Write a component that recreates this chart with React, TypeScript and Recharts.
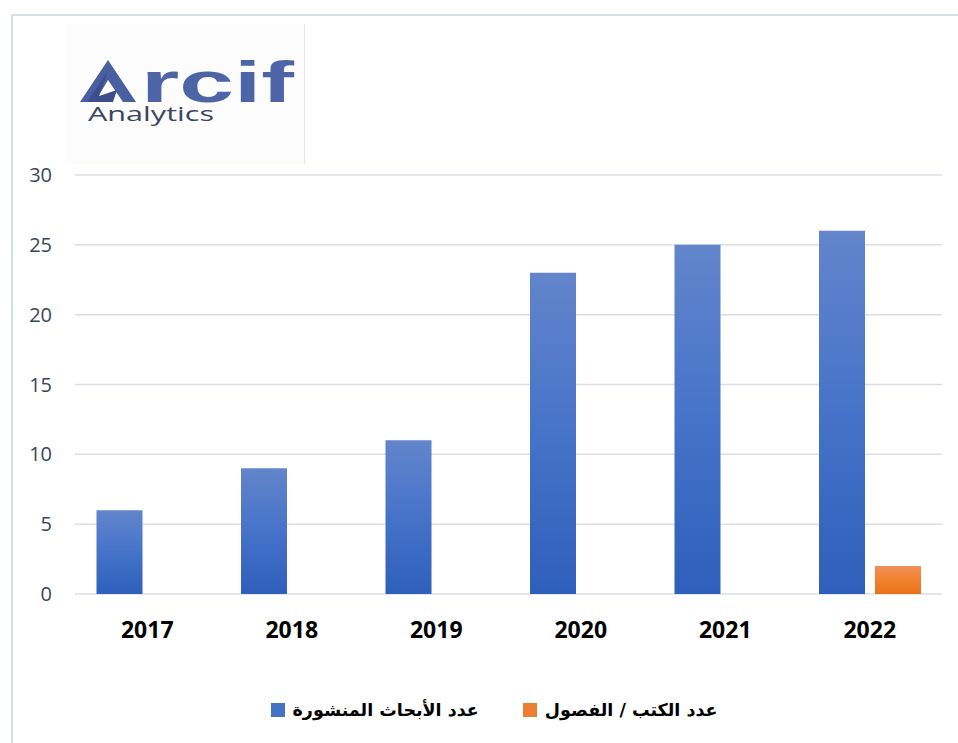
import React from 'react';
import {BarChart, Bar, XAxis, YAxis, CartesianGrid, Legend} from 'recharts';

const years = ['2017', '2018', '2019', '2020', '2021', '2022'];
const papers = [6, 9, 11, 23, 25, 26];
const books = [null, null, null, null, null, 2];
const yTicks = [0, 5, 10, 15, 20, 25, 30];
const papersLabel = 'عدد الأبحاث المنشورة';
const booksLabel = 'عدد الكتب / الفصول';

const data = years.map((year, i) => ({year, papers: papers[i], books: books[i]}));

// legend drawn by hand: square then text, blue item first
const LegendBox = () => {
    const items = [
        {label: papersLabel, color: '#4472c4'},
        {label: booksLabel, color: '#ed7d31'},
    ];
    return (
        <div style={{display: 'flex', justifyContent: 'center', alignItems: 'center', gap: 44, paddingLeft: 30}}>
            {items.map((it) => (
                <div key={it.label} style={{display: 'flex', alignItems: 'center'}}>
                    <span style={{display: 'inline-block', width: 14, height: 14, background: it.color, marginRight: 8}}/>
                    <span style={{fontFamily: '"DejaVu Sans", Arial, sans-serif', fontWeight: 700, fontSize: 17.5, color: '#000', direction: 'rtl'}}>
                        {it.label}
                    </span>
                </div>
            ))}
        </div>
    );
};

const Logo = () => (
    <div style={{position: 'absolute', left: 65, top: 24, width: 239, height: 140, background: '#fcfcfc', borderRight: '1px solid #e4e4e4'}}>
        <svg width={239} height={140}>
            {/* stylised A */}
            <polygon points="15,78 43,36 71,78 58,78 43,56 30,78" fill="#4a5f9f"/>
            <polygon points="22,78 43,47 34,72 52,66 48,78" fill="#3c4f8c"/>
            <text x={76} y={78} textLength={153} lengthAdjust="spacingAndGlyphs"
                  style={{fontFamily: '"Liberation Sans", Arial, sans-serif', fontWeight: 700, fontSize: 58, fill: '#4d64a6'}}>rcif</text>
            <text x={23} y={97} textLength={126} lengthAdjust="spacingAndGlyphs"
                  style={{fontFamily: '"Open Sans", sans-serif', fontSize: 20, fill: '#3a4562'}}>Analytics</text>
        </svg>
    </div>
);

export default function App() {
    return (
        <div style={{position: 'absolute', left: 0, top: 0, width: 958, height: 743, background: '#fff', overflow: 'hidden'}}>
            <div style={{position: 'absolute', left: 11, top: 14, width: 970, height: 760, border: '2px solid #d8dfe8', boxSizing: 'border-box'}}/>
            <Logo/>
            <BarChart width={958} height={743} data={data}
                      margin={{top: 175, right: 16, left: 0, bottom: 89}}
                      barCategoryGap={21.5} barGap={10}
                      style={{position: 'absolute', left: 0, top: 0}}>
                <defs>
                    <linearGradient id="blueGrad" x1="0" y1="0" x2="0" y2="1">
                        <stop offset="0%" stopColor="#6285cb"/>
                        <stop offset="50%" stopColor="#4673c9"/>
                        <stop offset="100%" stopColor="#2e5fba"/>
                    </linearGradient>
                    <linearGradient id="orangeGrad" x1="0" y1="0" x2="0" y2="1">
                        <stop offset="0%" stopColor="#f0915a"/>
                        <stop offset="50%" stopColor="#f3822e"/>
                        <stop offset="100%" stopColor="#e9711c"/>
                    </linearGradient>
                </defs>
                <CartesianGrid vertical={false} stroke="#dadfe6" strokeWidth={1.5}/>
                <XAxis dataKey="year" axisLine={false} tickLine={false} tickSize={0} tickMargin={28} height={60}
                       tick={{fontFamily: '"Open Sans", sans-serif', fontWeight: 700, fontSize: 23, fill: '#000'}}/>
                <YAxis domain={[0, 30]} ticks={yTicks} axisLine={false} tickLine={false} tickSize={0} tickMargin={23} width={75}
                       tick={{fontFamily: '"Open Sans", sans-serif', fontSize: 20, fill: '#3b4556'}}/>
                <Legend layout="horizontal" verticalAlign="middle" align="center" content={<LegendBox/>}
                        wrapperStyle={{top: 700, left: 0, width: 958}}/>
                <Bar dataKey="papers" name={papersLabel} fill="url(#blueGrad)" isAnimationActive={false}/>
                <Bar dataKey="books" name={booksLabel} fill="url(#orangeGrad)" isAnimationActive={false}/>
            </BarChart>
        </div>
    );
}
